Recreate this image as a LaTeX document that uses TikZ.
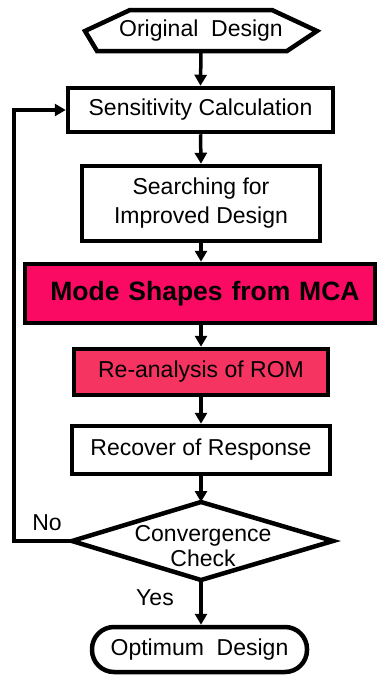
\documentclass[tikz,border=0pt]{standalone}
\usepackage{fontspec}
\setmainfont{Liberation Sans}
\usetikzlibrary{arrows.meta}
\definecolor{modefill}{RGB}{250,10,98}
\definecolor{romfill}{RGB}{245,52,98}
\begin{document}
\begin{tikzpicture}[x=1pt,y=-1pt,
  box/.style={draw,line width=4.5pt,inner sep=0pt,fill=white,
    font=\fontsize{23}{29}\selectfont,align=center},
  conn/.style={line width=3.5pt,-{Triangle[length=11pt,width=12pt]}},
  lbl/.style={font=\fontsize{23}{26}\selectfont,inner sep=0pt}]
\useasboundingbox (0,0) rectangle (377,675);
% start hexagon
\draw[line width=4.5pt,line join=miter] (85,31) -- (130,10) -- (272,10) -- (317,31) -- (287,51) -- (97,51) -- cycle;
\node[lbl] (orig) at (201,31) {Original~~Design};
\coordinate (origb) at (201,51);
% boxes
\node[box,minimum width=265pt,minimum height=44pt] (sens) at (200.5,110) {Sensitivity Calculation};
\node[box,minimum width=238pt,minimum height=75pt] (search) at (201,203.5) {Searching for\\Improved Design};
\node[box,fill=modefill,minimum width=350pt,minimum height=59pt,text width=340pt,font=\fontsize{26.5}{30}\selectfont\bfseries] (mode) at (200,293.5) {\hspace*{10pt}Mode Shapes from MCA};
\node[box,fill=romfill,minimum width=254pt,minimum height=46pt] (rom) at (201,372) {Re-analysis of ROM};
\node[box,minimum width=258pt,minimum height=48pt] (rec) at (201,450) {Recover of Response};
% diamond
\coordinate (dt) at (201,502);
\coordinate (dl) at (72,541);
\coordinate (dr) at (333,541);
\coordinate (db) at (201,580);
\draw[line width=4.5pt,line join=miter] (dt) -- (dr) -- (db) -- (dl) -- cycle;
\node[lbl,align=center,font=\fontsize{23}{25}\selectfont] (conv) at (203,546) {Convergence\\Check};
% terminal
\node[box,rounded corners=22pt,minimum width=215pt,minimum height=45pt] (opt) at (199.5,649.5) {Optimum~~Design};
% connectors
\draw[conn] (origb) -- (sens.north);
\draw[conn] (sens.south) -- (search.north);
\draw[conn] (search.south) -- (search.south |- mode.north);
\draw[conn] (mode.south -| rom.north) -- (rom.north);
\draw[conn] (rom.south) -- (rec.north);
\draw[conn] (rec.south) -- (dt);
\draw[conn] (db) -- (db |- opt.north);
\coordinate (fb) at (14,541);
\draw[conn,line join=miter] (dl) -- (fb) |- (sens.west);
% labels
\node[lbl] (no) at (47,523) {No};
\node[lbl] (yes) at (155,598) {Yes};
\end{tikzpicture}
\end{document}
